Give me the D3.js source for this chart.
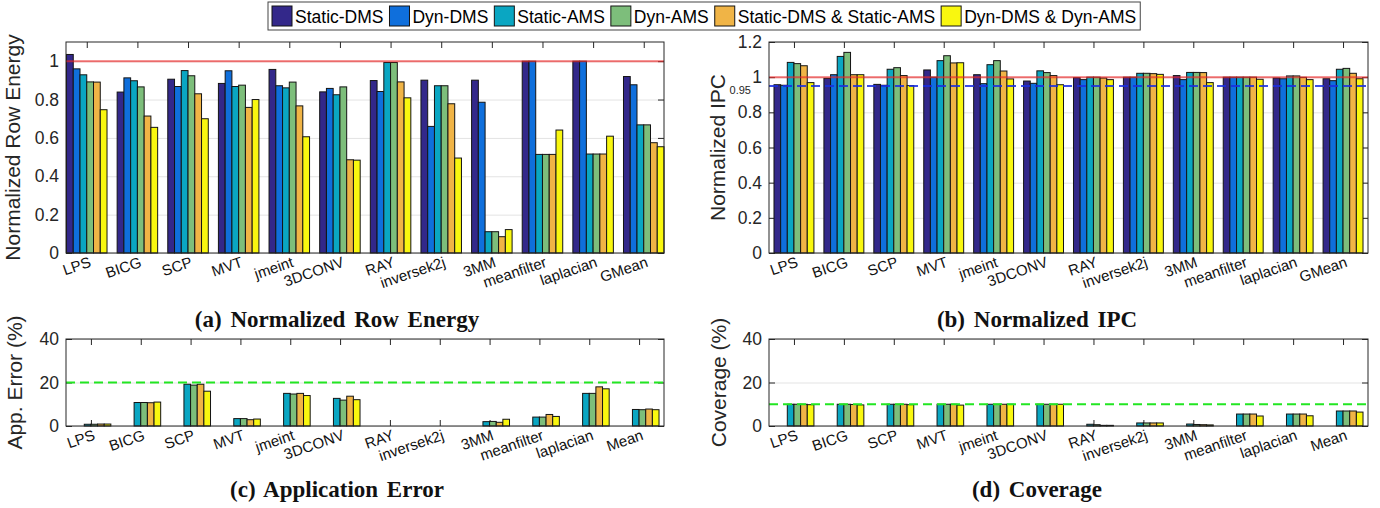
<!DOCTYPE html>
<html>
<head>
<meta charset="utf-8">
<script src="https://cdn.jsdelivr.net/npm/d3@7"></script>
<style>
  html, body { margin: 0; padding: 0; background: #fff; }
  svg { display: block; }
</style>
</head>
<body>
<svg id="chart" width="1380" height="508"></svg>
<script>
// ---------------- DATA ----------------
const seriesNames = ["Static-DMS", "Dyn-DMS", "Static-AMS", "Dyn-AMS", "Static-DMS & Static-AMS", "Dyn-DMS & Dyn-AMS"];
const seriesColors = ["#33288a", "#0f6fdc", "#0aa6c2", "#7dbe7b", "#f0b446", "#f9f70f"];

const categoriesTop = ["LPS", "BICG", "SCP", "MVT", "jmeint", "3DCONV", "RAY", "inversek2j", "3MM", "meanfilter", "laplacian", "GMean"];
const categoriesBottom = ["LPS", "BICG", "SCP", "MVT", "jmeint", "3DCONV", "RAY", "inversek2j", "3MM", "meanfilter", "laplacian", "Mean"];

// (a) Normalized Row Energy
const energyStaticDMS = [1.035, 0.839, 0.906, 0.884, 0.957, 0.840, 0.899, 0.901, 0.901, 1.000, 1.000, 0.920];
const energyDynDMS    = [0.960, 0.913, 0.868, 0.950, 0.872, 0.858, 0.842, 0.660, 0.786, 1.000, 1.000, 0.877];
const energyStaticAMS = [0.929, 0.898, 0.951, 0.868, 0.861, 0.825, 0.993, 0.872, 0.111, 0.514, 0.516, 0.668];
const energyDynAMS    = [0.892, 0.866, 0.924, 0.875, 0.891, 0.866, 0.993, 0.872, 0.111, 0.514, 0.516, 0.668];
const energySS        = [0.891, 0.714, 0.830, 0.759, 0.767, 0.486, 0.892, 0.778, 0.085, 0.514, 0.516, 0.575];
const energyDD        = [0.747, 0.655, 0.700, 0.800, 0.606, 0.484, 0.809, 0.495, 0.122, 0.641, 0.609, 0.554];

// (b) Normalized IPC
const ipcStaticDMS = [0.957, 0.993, 0.959, 1.041, 1.014, 0.978, 0.997, 1.000, 1.009, 1.000, 0.995, 0.991];
const ipcDynDMS    = [0.954, 1.014, 0.954, 1.000, 0.963, 0.965, 0.986, 1.000, 0.986, 1.000, 0.991, 0.980];
const ipcStaticAMS = [1.084, 1.118, 1.045, 1.094, 1.071, 1.036, 1.000, 1.022, 1.027, 1.000, 1.007, 1.045];
const ipcDynAMS    = [1.077, 1.141, 1.054, 1.122, 1.094, 1.026, 1.000, 1.022, 1.027, 1.000, 1.007, 1.050];
const ipcSS        = [1.065, 1.014, 1.009, 1.081, 1.035, 1.009, 0.995, 1.020, 1.026, 1.000, 0.999, 1.022];
const ipcDD        = [0.969, 1.014, 0.952, 1.082, 0.990, 0.957, 0.986, 1.016, 0.969, 0.988, 0.986, 0.991];

// (c) Application Error (%)
const errStaticDMS = [0, 0, 0, 0, 0, 0, 0, 0, 0, 0, 0, 0];
const errDynDMS    = [0, 0, 0, 0, 0, 0, 0, 0, 0, 0, 0, 0];
const errStaticAMS = [0.8, 10.8, 19.2, 3.4, 15.0, 12.7, 0, 0, 2.0, 4.1, 15.0, 7.6];
const errDynAMS    = [0.8, 10.8, 18.8, 3.4, 14.7, 11.9, 0, 0, 2.1, 4.1, 15.0, 7.5];
const errSS        = [0.9, 10.7, 19.2, 2.9, 15.0, 13.7, 0, 0, 1.7, 5.3, 18.0, 7.8];
const errDD        = [0.9, 11.0, 16.0, 3.2, 14.0, 12.1, 0, 0, 3.1, 4.4, 17.1, 7.5];

// (d) Coverage (%)
const covStaticDMS = [0, 0, 0, 0, 0, 0, 0, 0, 0, 0, 0, 0];
const covDynDMS    = [0, 0, 0, 0, 0, 0, 0, 0, 0, 0, 0, 0];
const covStaticAMS = [10, 10, 10, 10, 10, 10, 0.8, 1.4, 0.9, 5.5, 5.5, 6.9];
const covDynAMS    = [10, 10, 10, 10, 10, 10, 0.6, 1.4, 0.7, 5.5, 5.5, 6.9];
const covSS        = [10, 9.9, 10, 10, 10, 10, 0.3, 1.4, 0.6, 5.5, 5.5, 6.9];
const covDD        = [9.8, 9.7, 9.8, 9.6, 10, 10, 0.3, 1.4, 0.5, 4.6, 4.7, 6.4];

const ticksEnergy = [0, 0.2, 0.4, 0.6, 0.8, 1];
const tickLabelsEnergy = ["0", "0.2", "0.4", "0.6", "0.8", "1"];
const ticksIPC = [0, 0.2, 0.4, 0.6, 0.8, 1, 1.2];
const tickLabelsIPC = ["0", "0.2", "0.4", "0.6", "0.8", "1", "1.2"];
const ticksPct = [0, 20, 40];
const tickLabelsPct = ["0", "20", "40"];

// ---------------- DRAWING ----------------
const svg = d3.select("#chart");
const FONT = "'Liberation Sans', Arial, Helvetica, sans-serif";
const SERIF = "'Liberation Serif', 'Times New Roman', Times, serif";
const AX = "#262626";

function panel(cfg) {
  const g = svg.append("g");
  const x = d3.scaleLinear().domain(cfg.xdom).range([cfg.x0, cfg.x1]);
  const y = d3.scaleLinear().domain([0, cfg.ymax]).range([cfg.y1, cfg.y0]);
  const idx = d3.range(cfg.categories.length);

  // grid
  g.append("g").attr("transform", `translate(${cfg.x0},0)`)
    .call(d3.axisLeft(y).tickValues(cfg.yticks).tickSize(-(cfg.x1 - cfg.x0)).tickFormat(""))
    .call(s => s.select(".domain").remove())
    .call(s => s.selectAll("line").attr("stroke", "#e3e3e3").attr("stroke-width", 1));

  // y axis left (labels + inward ticks)
  g.append("g").attr("transform", `translate(${cfg.x0},0)`)
    .call(d3.axisLeft(y).tickValues(cfg.yticks).tickSizeInner(-6).tickSizeOuter(0).tickPadding(7)
      .tickFormat((d, i) => cfg.yticklabels[i]))
    .call(s => s.select(".domain").remove())
    .call(s => s.selectAll("line").attr("stroke", AX))
    .call(s => s.selectAll("text").attr("font-family", FONT).attr("font-size", 17.5).attr("fill", AX));
  // y axis right ticks
  g.append("g").attr("transform", `translate(${cfg.x1},0)`)
    .call(d3.axisRight(y).tickValues(cfg.yticks).tickSizeInner(-6).tickSizeOuter(0).tickFormat(""))
    .call(s => s.select(".domain").remove())
    .call(s => s.selectAll("line").attr("stroke", AX));
  // x axis top ticks
  g.append("g").attr("transform", `translate(0,${cfg.y0})`)
    .call(d3.axisTop(x).tickValues(idx).tickSizeInner(-6).tickSizeOuter(0).tickFormat(""))
    .call(s => s.select(".domain").remove())
    .call(s => s.selectAll("line").attr("stroke", AX));
  // x axis bottom
  g.append("g").attr("transform", `translate(0,${cfg.y1})`)
    .call(d3.axisBottom(x).tickValues(idx).tickSizeInner(-6).tickSizeOuter(0)
      .tickFormat(i => cfg.categories[i]))
    .call(s => s.select(".domain").remove())
    .call(s => s.selectAll("line").attr("stroke", AX))
    .call(s => s.selectAll("text")
      .attr("font-family", FONT).attr("font-size", 15).attr("fill", "#111")
      .attr("text-anchor", "end").attr("x", 0).attr("y", 3).attr("dy", "0.74em")
      .attr("transform", "rotate(-19)"));

  // bars
  const nS = cfg.series.length;
  const gw = 0.8, bw = gw / nS;
  cfg.series.forEach((vals, s) => {
    g.append("g").selectAll("rect").data(vals).join("rect")
      .attr("x", (d, i) => x(i - gw / 2 + s * bw))
      .attr("width", (d, i) => x(i - gw / 2 + (s + 1) * bw) - x(i - gw / 2 + s * bw))
      .attr("y", d => y(d))
      .attr("height", d => y(0) - y(d))
      .attr("fill", seriesColors[s])
      .attr("stroke", "#141414").attr("stroke-width", 1);
  });

  // reference lines
  (cfg.refs || []).forEach(r => {
    g.append("line")
      .attr("x1", cfg.x0).attr("x2", cfg.x1)
      .attr("y1", y(r.v)).attr("y2", y(r.v))
      .attr("stroke", r.color).attr("stroke-width", 2)
      .attr("stroke-opacity", r.opacity || 1)
      .attr("stroke-dasharray", r.dash || null);
  });

  // box
  g.append("rect").attr("x", cfg.x0).attr("y", cfg.y0)
    .attr("width", cfg.x1 - cfg.x0).attr("height", cfg.y1 - cfg.y0)
    .attr("fill", "none").attr("stroke", AX).attr("stroke-width", 1);

  // y label
  g.append("text")
    .attr("transform", `translate(${cfg.ylabX},${(cfg.y0 + cfg.y1) / 2}) rotate(-90)`)
    .attr("text-anchor", "middle")
    .attr("font-family", FONT).attr("font-size", 21).attr("fill", AX)
    .text(cfg.ylabel);

  // title
  g.append("text")
    .attr("x", cfg.titleX).attr("y", cfg.titleY)
    .attr("text-anchor", "middle")
    .attr("font-family", SERIF).attr("font-weight", "bold").attr("font-size", 23)
    .attr("word-spacing", 3).attr("fill", "#111")
    .text(cfg.title);

  return { x, y, g };
}

const pa = panel({
  x0: 66, x1: 664, y0: 42, y1: 253, xdom: [-0.41, 11.40], ymax: 1.1,
  categories: categoriesTop,
  series: [energyStaticDMS, energyDynDMS, energyStaticAMS, energyDynAMS, energySS, energyDD],
  yticks: ticksEnergy, yticklabels: tickLabelsEnergy,
  refs: [{ v: 1, color: "rgb(235,40,40)", opacity: 0.65 }],
  ylabel: "Normalized Row Energy", ylabX: 20,
  title: "(a) Normalized Row Energy", titleX: 337, titleY: 327
});

const pb = panel({
  x0: 769, x1: 1368, y0: 42, y1: 253, xdom: [-0.5, 11.5], ymax: 1.2,
  categories: categoriesTop,
  series: [ipcStaticDMS, ipcDynDMS, ipcStaticAMS, ipcDynAMS, ipcSS, ipcDD],
  yticks: ticksIPC, yticklabels: tickLabelsIPC,
  refs: [{ v: 1, color: "rgb(235,40,40)", opacity: 0.65 },
         { v: 0.95, color: "#1a2ee0", opacity: 0.85, dash: "9,5" }],
  ylabel: "Normalized IPC", ylabX: 725,
  title: "(b) Normalized IPC", titleX: 1037, titleY: 327
});
// 0.95 annotation
pb.g.append("text").attr("x", 751).attr("y", pb.y(0.95) + 8.5)
  .attr("text-anchor", "end").attr("font-family", FONT).attr("font-size", 11).attr("fill", AX)
  .text("0.95");

panel({
  x0: 66, x1: 664, y0: 339, y1: 426, xdom: [-0.5, 11.5], ymax: 40,
  categories: categoriesBottom,
  series: [errStaticDMS, errDynDMS, errStaticAMS, errDynAMS, errSS, errDD],
  yticks: ticksPct, yticklabels: tickLabelsPct,
  refs: [{ v: 20, color: "#22e622", dash: "9,5" }],
  ylabel: "App. Error (%)", ylabX: 22,
  title: "(c) Application Error", titleX: 337, titleY: 497
});

panel({
  x0: 769, x1: 1368, y0: 339, y1: 426, xdom: [-0.5, 11.5], ymax: 40,
  categories: categoriesBottom,
  series: [covStaticDMS, covDynDMS, covStaticAMS, covDynAMS, covSS, covDD],
  yticks: ticksPct, yticklabels: tickLabelsPct,
  refs: [{ v: 10, color: "#22e622", dash: "9,5" }],
  ylabel: "Coverage (%)", ylabX: 726,
  title: "(d) Coverage", titleX: 1037, titleY: 497
});

// ---------------- LEGEND ----------------
const lg = svg.append("g");
const lx0 = 268, ly0 = 2, lh = 28, pad = 4, sw = 20, sh = 20;
const box = lg.append("rect").attr("x", lx0).attr("y", ly0).attr("height", lh)
  .attr("fill", "#fff").attr("stroke", "#444").attr("stroke-width", 1);
let cx = lx0 + pad;
seriesNames.forEach((name, i) => {
  lg.append("rect").attr("x", cx).attr("y", ly0 + (lh - sh) / 2).attr("width", sw).attr("height", sh)
    .attr("fill", seriesColors[i]).attr("stroke", "#141414").attr("stroke-width", 1);
  const t = lg.append("text").attr("x", cx + sw + 3).attr("y", ly0 + 20.5)
    .attr("font-family", FONT).attr("font-size", 17.5).attr("fill", "#000").text(name);
  const w = t.node().getComputedTextLength();
  cx += sw + 3 + w + 6;
});
box.attr("width", cx - lx0 + pad - 6);
</script>
</body>
</html>
